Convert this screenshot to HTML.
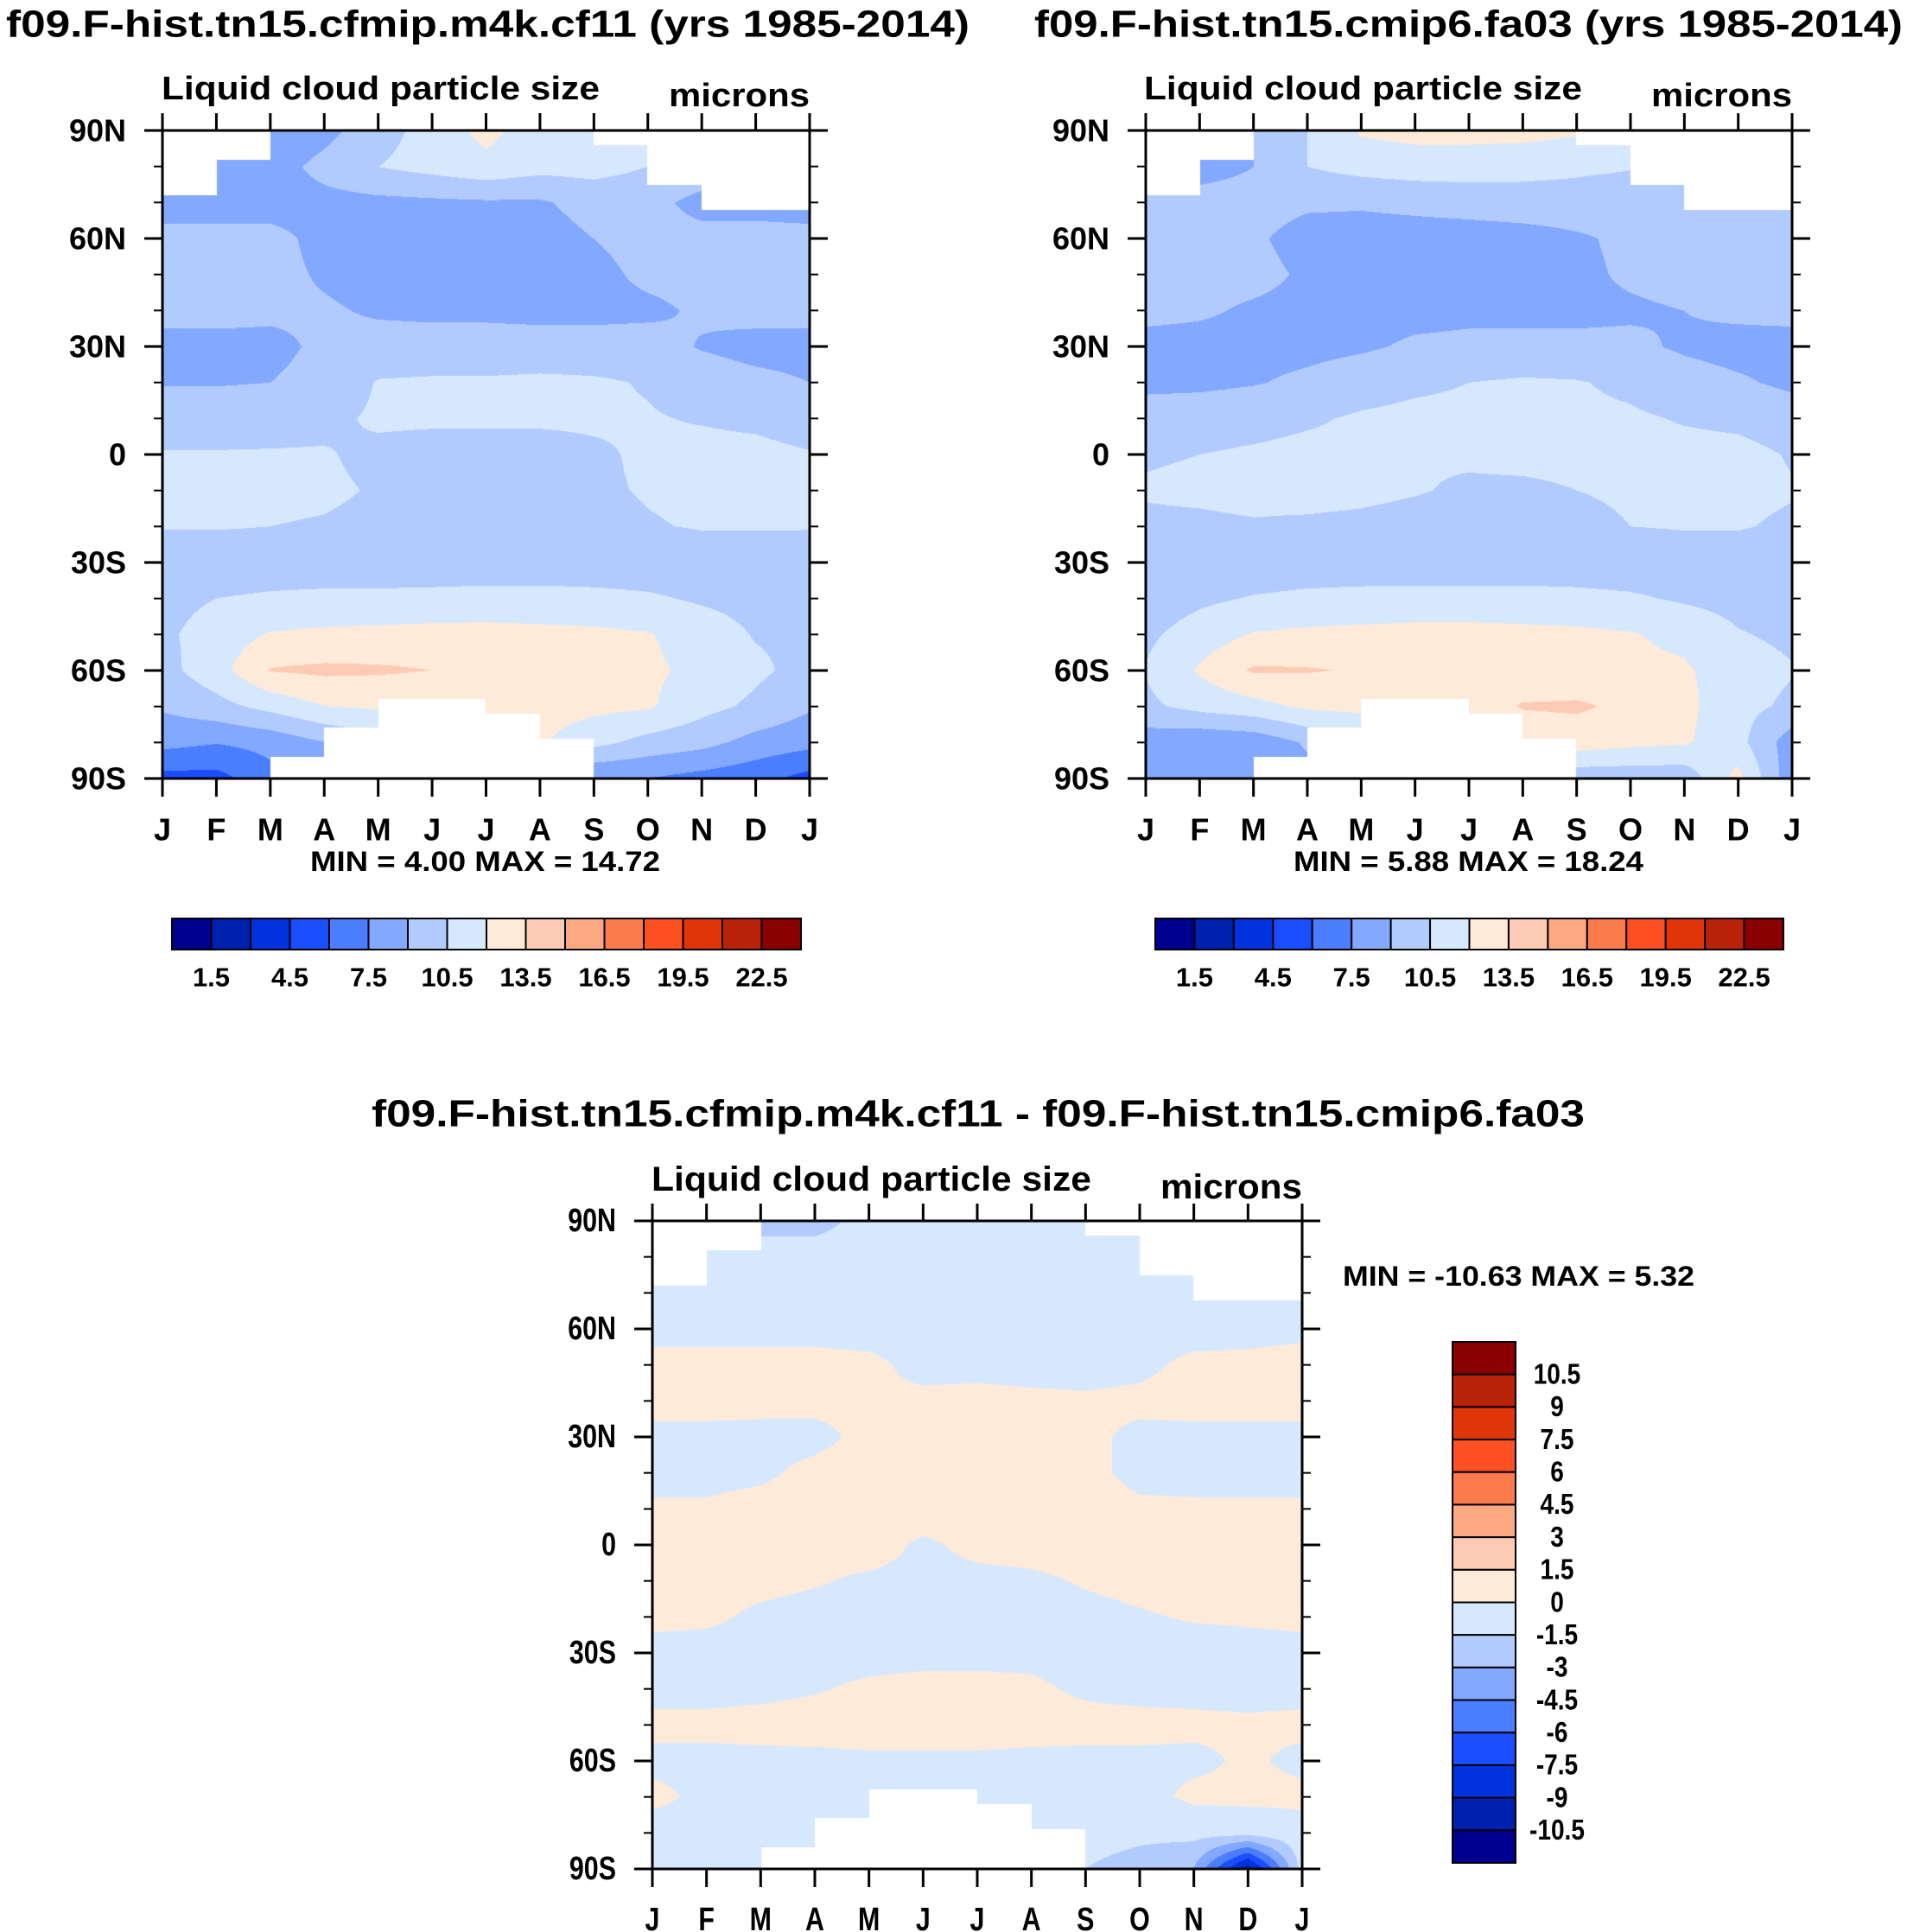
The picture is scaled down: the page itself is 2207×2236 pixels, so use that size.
<!DOCTYPE html>
<html><head><meta charset="utf-8"><style>
body{margin:0;background:#fff;width:2207px;height:2236px;position:relative;overflow:hidden;font-family:"Liberation Sans",sans-serif}
canvas{position:absolute}
svg{position:absolute;left:0;top:0}
text{font-family:"Liberation Sans",sans-serif;font-weight:bold;fill:#000}
</style></head><body>
<canvas id="c1"></canvas>
<canvas id="c2"></canvas>
<canvas id="c3"></canvas>
<svg id="s" width="2207" height="2236"></svg>
<script>
const months=['J','F','M','A','M','J','J','A','S','O','N','D','J'];
const latTickLabels=['90N','60N','30N','0','30S','60S','90S'];
const latTickValues=[90,60,30,0,-30,-60,-90];
const absColors=['#000090','#0020b0','#0033dd','#1a4dff','#4a7eff','#82a8ff','#b1cbff','#d6e8fd','#feead9','#fdcbb3','#fca882','#fd7a4b','#fe5020','#e03508','#b82208','#8b0000'];
const absLabels=['1.5','4.5','7.5','10.5','13.5','16.5','19.5','22.5'];
const diffLabels=['10.5','9','7.5','6','4.5','3','1.5','0','-1.5','-3','-4.5','-6','-7.5','-9','-10.5'];
const northMask=[72,82,90,90,90,90,90,90,86,75,68,68];
const southMask=[-90,-90,-84,-76,-68,-68,-72,-79,-90,-90,-90,-90];
// rows: 90N..90S every 10 deg; cols: J..J
const field1=[
[9,9,7.5,8.5,10,11,12.5,11,11,11,11,11,9],
[8.5,8.3,8.3,9.5,10.5,11,11.5,11,11,10.5,10,10,8.5],
[8.3,8.3,8.3,8.5,8.6,8.7,8.8,8.8,9.6,9.5,8.5,8.5,8.3],
[9.5,9.5,9.5,8.5,8.3,8.3,8.3,8.3,9,9.5,9.5,9.5,9.5],
[9.5,9.5,9.5,8.8,8.3,8.2,8.2,8.3,8.6,9.3,9.5,9.5,9.5],
[9.5,9.5,9.3,9.2,8.8,8.7,8.7,8.6,8.6,8.7,9.2,9.5,9.5],
[8.5,8.5,8.6,9.3,9.6,9.6,9.6,9.6,9.6,9.6,8.9,8.5,8.5],
[8.9,8.9,9.0,9.5,10.6,10.7,10.7,10.8,10.7,10.4,9.8,9.4,9.0],
[9.8,9.8,10,10.2,10.7,10.7,10.7,10.7,10.7,10.6,10.4,10.2,9.8],
[10.6,10.6,10.6,10.6,10.2,10.0,10.0,10.0,10.3,10.7,10.9,10.9,10.6],
[10.8,10.8,10.8,10.7,10.4,10.2,10.1,10.1,10.3,10.6,10.8,10.8,10.8],
[10.6,10.6,10.5,10.4,10.2,10.0,9.9,9.9,10.1,10.4,10.6,10.6,10.6],
[9.6,9.6,9.7,9.7,9.7,9.6,9.6,9.6,9.6,9.6,9.7,9.8,9.6],
[10,10.5,10.7,10.8,10.8,10.9,11,11,10.9,10.7,10.3,10,10],
[10.2,11.2,12.1,12.3,12.4,12.5,12.5,12.4,12.3,12.1,11.3,10.4,10.2],
[10,11.4,13.6,13.8,13.7,13.5,12.9,12.6,12.5,12.3,11.6,10.8,10],
[9.2,10,11,12,12.2,12.2,12.5,12.6,12.4,12.2,11,10.2,9.2],
[8,7.6,8,9,10,10,10,12.2,11,10,9.5,8.5,8],
[5.5,5.5,7,8,9,9,9,9,7.5,7.5,7,6.5,5.5]];
const field2=[
[9,9,9,10.5,12.2,12.5,12.5,12.5,12.2,11,11,11,9],
[9,8.5,9,10.5,11,11.2,11.2,11,10.8,10.6,10,10,9],
[9.5,9.5,9.5,9.2,9.2,9.4,9.6,9.8,9.8,9.6,9.5,9.5,9.5],
[9.5,9.5,9.2,8.5,8.3,8.3,8.3,8.4,8.8,9.3,9.5,9.5,9.5],
[9.5,9.5,9.4,8.8,8.4,8.3,8.3,8.4,8.7,9.2,9.5,9.5,9.5],
[9.4,9.2,8.8,8.6,8.5,8.6,8.7,8.7,8.7,8.8,9.0,9.3,9.4],
[8.5,8.5,8.5,8.6,8.8,9.2,9.3,9.3,9.3,9.3,8.8,8.5,8.5],
[8.6,8.7,8.9,9.3,9.8,10.2,10.5,10.7,10.6,10.2,9.6,9.2,8.7],
[9.8,9.8,10,10.3,10.7,10.9,10.9,10.9,10.8,10.7,10.4,10.2,9.8],
[10.4,10.5,10.7,10.9,10.9,10.6,10.7,10.8,10.8,10.8,10.9,10.9,10.4],
[10.6,10.7,10.8,10.9,10.8,10.6,10.3,10.3,10.5,10.7,10.8,10.8,10.6],
[10.3,10.3,10.4,10.3,10.2,10.0,9.9,9.9,10.1,10.5,10.6,10.6,10.3],
[9.4,9.4,9.6,9.7,9.7,9.6,9.6,9.6,9.6,9.6,9.7,9.8,9.4],
[9.6,10.2,10.6,10.8,10.9,11,11,11,10.9,10.7,10.3,10,9.6],
[10.2,11.2,12.1,12.3,12.4,12.5,12.5,12.4,12.3,12.1,11.6,10.6,10.2],
[10.6,12.2,13.7,13.6,13.4,13.2,12.8,12.6,12.5,12.4,12.2,11.2,10.6],
[10.2,11,11.5,12.3,12.5,12.6,12.8,13.6,13.7,13.2,12.4,11,10.2],
[8.2,7.8,8,9.2,10,10,10,12.6,12.8,12.4,12.2,11,8.2],
[8,8,8,8.5,9,9,9,9,9.5,9.5,9.5,12.5,8]];
const field3=[
[-1,-1,-2,-2,-1,-1,-1,-1,-1,-1,-1,-1,-1],
[-0.8,-0.8,-0.8,-0.8,-0.8,-0.8,-0.8,-0.8,-0.8,-0.8,-0.8,-0.8,-0.8],
[-0.8,-0.8,-0.8,-0.8,-0.8,-0.8,-0.8,-0.8,-0.8,-0.8,-0.8,-0.8,-0.8],
[-0.5,-0.5,-0.5,-0.5,-0.5,-0.5,-0.5,-0.6,-0.6,-0.5,-0.5,-0.5,-0.3],
[0.5,0.5,0.5,0.5,0.3,-0.4,-0.4,-0.5,-0.5,-0.3,0.3,0.4,0.5],
[0.5,0.5,0.4,0.3,0.2,0.3,0.4,0.3,0.2,0.3,0.5,0.5,0.5],
[-0.4,-0.4,-0.4,-0.3,0.3,0.5,0.5,0.5,0.3,-0.3,-0.4,-0.4,-0.4],
[-0.4,-0.4,-0.2,0.3,0.5,0.6,0.6,0.5,0.3,-0.3,-0.4,-0.4,-0.4],
[0.2,0.2,0.4,0.5,0.6,0.6,0.6,0.6,0.5,0.2,0.2,0.2,0.2],
[0.5,0.5,0.5,0.5,0.5,-0.2,0.3,0.4,0.5,0.2,0.5,0.5,0.5],
[0.4,0.4,0.3,0.1,-0.2,-0.3,-0.3,-0.2,0.1,0.3,0.4,0.4,0.4],
[0.3,0.2,-0.2,-0.4,-0.5,-0.5,-0.5,-0.5,-0.3,-0.1,0.1,0.2,0.3],
[-0.4,-0.4,-0.4,-0.4,-0.4,-0.3,-0.3,-0.3,-0.4,-0.5,-0.5,-0.5,-0.4],
[-0.4,-0.4,-0.3,-0.1,0.2,0.3,0.3,0.2,-0.2,-0.4,-0.4,-0.4,-0.4],
[0.3,0.3,0.4,0.5,0.5,0.5,0.5,0.5,0.4,0.4,0.3,0.2,0.3],
[-0.3,-0.3,-0.3,-0.3,-0.2,-0.2,-0.2,-0.3,-0.3,-0.3,-0.3,0.2,-0.3],
[0.3,-0.3,-0.4,-0.4,-0.4,-0.4,-0.4,-0.4,-0.6,-0.5,0.3,0.3,0.3],
[-0.5,-0.5,-0.5,-0.5,-0.5,-0.5,-0.5,-0.8,-1,-1.2,-1,-0.8,-0.5],
[-1,-1,-1,-1,-1,-1,-1,-1,-1.5,-2,-3,-10,-1]];

const NS='http://www.w3.org/2000/svg';
const svg=document.getElementById('s');
function el(tag,attrs,parent){const e=document.createElementNS(NS,tag);for(const k in attrs)e.setAttribute(k,attrs[k]);(parent||svg).appendChild(e);return e;}
function txt(str,x,y,size,anchor,name,len){const t=el('text',{x:x,y:y,'font-size':size,'text-anchor':anchor||'start','dominant-baseline':'central'});
if(len){t.setAttribute('textLength',len);t.setAttribute('lengthAdjust','spacingAndGlyphs');}
t.textContent=str;


return t;}
function hex(c){return [parseInt(c.slice(1,3),16),parseInt(c.slice(3,5),16),parseInt(c.slice(5,7),16)];}

function drawField(id,P,field,lo,step){
  const cv=document.getElementById(id);
  cv.width=P.w;cv.height=P.h;cv.style.left=P.x+'px';cv.style.top=P.y+'px';
  const ctx=cv.getContext('2d');const img=ctx.createImageData(P.w,P.h);
  const cols=absColors.map(hex);
  for(let j=0;j<P.h;j++){
    const lat=90-180*j/(P.h-1);const fy=(90-lat)/10;const r0=Math.min(17,Math.floor(fy));const ty=fy-r0;
    for(let i=0;i<P.w;i++){
      const fx=12*i/(P.w-1);const c0=Math.min(11,Math.floor(fx));const tx=fx-c0;
      const seg=Math.min(11,Math.floor(fx));
      let k=(j*P.w+i)*4;
      if(lat>northMask[seg]||lat<southMask[seg]){img.data[k]=255;img.data[k+1]=255;img.data[k+2]=255;img.data[k+3]=255;continue;}
      const v=(field[r0][c0]*(1-tx)+field[r0][c0+1]*tx)*(1-ty)+(field[r0+1][c0]*(1-tx)+field[r0+1][c0+1]*tx)*ty;
      let idx=Math.floor((v-lo)/step);idx=Math.max(0,Math.min(15,idx));
      const c=cols[idx];img.data[k]=c[0];img.data[k+1]=c[1];img.data[k+2]=c[2];img.data[k+3]=255;
    }
  }
  ctx.putImageData(img,0,0);
}

function drawAxes(P,pre,fs,cond){
  const g=el('g',{});
  
  
  const fr=el('rect',{x:P.x,y:P.y,width:P.w,height:P.h,fill:'none',stroke:'#000','stroke-width':3},g);
  
  
  for(let m=0;m<13;m++){
    const x=P.x+P.w*m/12;
    el('line',{x1:x,y1:P.y-20,x2:x,y2:P.y,stroke:'#000','stroke-width':3},g);
    el('line',{x1:x,y1:P.y+P.h,x2:x,y2:P.y+P.h+21,stroke:'#000','stroke-width':3},g);
    const t=txt(months[m],x,P.y+P.h+59,fs,'middle',pre+'-x-tick-'+m);
    if(cond)t.setAttribute('transform','translate('+x+',0) scale(0.8,1) translate('+(-x)+',0)');
  }
  for(let l=-90;l<=90;l+=10){
    const y=P.y+P.h*(90-l)/180;const major=(l%30===0);const L=major?21:10;
    el('line',{x1:P.x-L,y1:y,x2:P.x,y2:y,stroke:'#000','stroke-width':major?3:2},g);
    el('line',{x1:P.x+P.w,y1:y,x2:P.x+P.w+L,y2:y,stroke:'#000','stroke-width':major?3:2},g);
  }
  latTickValues.forEach((v,i)=>{const y=P.y+P.h*(90-v)/180;
    const t=txt(latTickLabels[i],P.x-42,y,fs,'end',pre+'-y-tick-'+latTickLabels[i]);
    if(cond){const x=P.x-42;t.setAttribute('transform','translate('+x+',0) scale(0.8,1) translate('+(-x)+',0)');}
  });
}

const P1={x:188,y:151,w:749,h:750},P2={x:1326,y:151,w:748,h:750},P3={x:755,y:1413,w:752,h:750};
drawField('c1',P1,field1,0,1.5);
drawField('c2',P2,field2,0,1.5);
drawField('c3',P3,field3,-12,1.5);
drawAxes(P1,'left',36);drawAxes(P2,'right',36);drawAxes(P3,'diff',38,true);

txt('f09.F-hist.tn15.cfmip.m4k.cf11 (yrs 1985-2014)',7,28,44,'start','left-title',1115);
txt('f09.F-hist.tn15.cmip6.fa03 (yrs 1985-2014)',1197,28,44,'start','right-title',1005);
txt('Liquid cloud particle size',187,103,38,'start','left-subtitle',507);
txt('microns',937,111,38,'end','left-units',163);
txt('Liquid cloud particle size',1324,103,38,'start','right-subtitle',507);
txt('microns',2074,111,38,'end','right-units',163);
txt('MIN =   4.00 MAX =  14.72',359,997,32,'start','left-min-max',405);
txt('MIN =   5.88 MAX =  18.24',1497,997,32,'start','right-min-max',405);
txt('f09.F-hist.tn15.cfmip.m4k.cf11 - f09.F-hist.tn15.cmip6.fa03',430,1289,44,'start','diff-title',1404);
txt('Liquid cloud particle size',754,1365,40,'start','diff-subtitle',509);
txt('microns',1507,1374,40,'end','diff-units',164);
txt('MIN = -10.63 MAX =   5.32',1554,1477,32,'start','diff-min-max',407);

function hbar(x,y,w,h,pre){
  const g=el('g',{});
  
  
  const bw=w/16;
  absColors.forEach((c,i)=>{el('rect',{x:x+i*bw,y:y,width:bw,height:h,fill:c,stroke:'#000','stroke-width':2},g);});
  absLabels.forEach((s,i)=>{txt(s,x+bw*(1+2*i),y+h+32,31,'middle',pre+'-colorbar-label-'+s);});
}
hbar(199,1063,728,36,'left');hbar(1337,1063,727,36,'right');
(function(){
  const x=1681,y=1553,w=73,h=603,bh=h/16;
  const g=el('g',{});
  
  
  for(let i=0;i<16;i++){el('rect',{x:x,y:y+i*bh,width:w,height:bh,fill:absColors[15-i],stroke:'#000','stroke-width':2},g);}
  diffLabels.forEach((s,i)=>{const t=txt(s,1802,y+bh*(i+1),33,'middle','diff-colorbar-label-'+i);
    t.setAttribute('transform','translate(1802,0) scale(0.85,1) translate(-1802,0)');});
})();
</script>
</body></html>
